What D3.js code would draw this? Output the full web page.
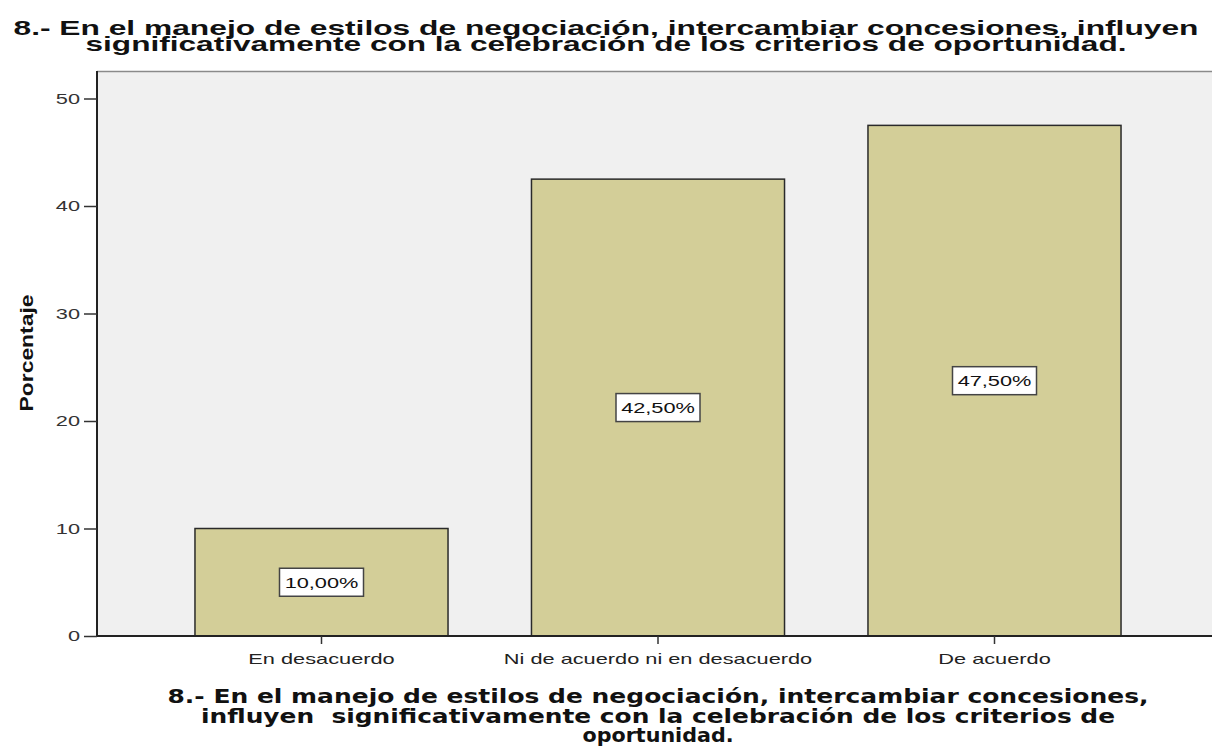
<!DOCTYPE html>
<html>
<head>
<meta charset="utf-8">
<script src="https://cdn.jsdelivr.net/npm/d3@7"></script>
<style>
  body { margin: 0; background: #fff; }
  svg { display: block; }
</style>
</head>
<body>
<div id="chart"></div>
<script>
// data
const categories = ["En desacuerdo", "Ni de acuerdo ni en desacuerdo", "De acuerdo"];
const percents = [10, 42.5, 47.5];
const yTicks = [0, 10, 20, 30, 40, 50];
const titleLines = [
  "8.- En el manejo de estilos de negociación, intercambiar concesiones, influyen",
  "significativamente con la celebración de los criterios de oportunidad."
];
const xTitleLines = [
  "8.- En el manejo de estilos de negociación, intercambiar concesiones,",
  "influyen  significativamente con la celebración de los criterios de",
  "oportunidad."
];

// size
const w = 1212;
const h = 754;
// the source image is stretched sideways, so text is widened too
const stretch = 1.45;

const svg = d3.select("#chart")
              .append("svg")
              .attr("width", w)
              .attr("height", h);

// plot box
const plot = { left: 97, top: 71, right: 1212, bottom: 636 };

const xScale = d3.scaleBand()
                 .domain(categories)
                 .range([153.25, 1162.75])
                 .paddingInner(0.248)
                 .paddingOuter(0.124);

const yScale = d3.scaleLinear()
                 .domain([0, 50])
                 .range([636, 98.5]);

// widen a text selection by a factor, keeping its anchor
const widen = sel => sel.each(function () {
    const len = this.getComputedTextLength();
    d3.select(this)
      .attr("textLength", len * stretch)
      .attr("lengthAdjust", "spacingAndGlyphs");
});

// background
svg.append("rect")
   .attr("x", plot.left)
   .attr("y", plot.top)
   .attr("width", plot.right - plot.left)
   .attr("height", plot.bottom - plot.top)
   .attr("fill", "#f0f0f0");

svg.append("line")
   .attr("x1", plot.left).attr("x2", plot.right)
   .attr("y1", plot.top + 0.5).attr("y2", plot.top + 0.5)
   .attr("stroke", "#8a8a8a")
   .attr("stroke-width", 1.5);

// bars
svg.selectAll("rect.bar")
   .data(percents)
   .enter()
   .append("rect")
   .attr("class", "bar")
   .attr("x", (d, i) => xScale(categories[i]))
   .attr("y", d => yScale(d))
   .attr("width", xScale.bandwidth())
   .attr("height", d => yScale(0) - yScale(d))
   .attr("fill", "#d3ce98")
   .attr("stroke", "#2a2a2a")
   .attr("stroke-width", 1.5);

// value labels in boxes
const fmt = d => d.toFixed(2).replace(".", ",") + "%";
const labels = svg.selectAll("g.vlabel")
   .data(percents)
   .enter()
   .append("g")
   .attr("class", "vlabel")
   .attr("transform", (d, i) => `translate(${xScale(categories[i]) + xScale.bandwidth() / 2},${yScale(d / 2)})`);

labels.append("rect")
   .attr("x", -42)
   .attr("y", -14)
   .attr("width", 84)
   .attr("height", 28)
   .attr("fill", "#fff")
   .attr("stroke", "#444")
   .attr("stroke-width", 1.5);

labels.append("text")
   .attr("text-anchor", "middle")
   .attr("dy", "0.36em")
   .attr("font-family", "Liberation Sans, Arial, sans-serif")
   .attr("font-size", 15)
   .attr("fill", "#111")
   .text(fmt)
   .call(widen);

// y axis
const yAxis = d3.axisLeft(yScale)
                .tickValues(yTicks)
                .tickSize(13)
                .tickPadding(4)
                .tickSizeOuter(0);

const gy = svg.append("g")
   .attr("transform", `translate(${plot.left},0)`)
   .call(yAxis);
gy.select(".domain").attr("d", `M0,${plot.top}V${plot.bottom}`).attr("stroke", "#222").attr("stroke-width", 2);
gy.selectAll(".tick line").attr("stroke", "#333").attr("stroke-width", 1.5);
gy.selectAll(".tick text")
  .attr("font-family", "Liberation Sans, Arial, sans-serif")
  .attr("font-size", 15)
  .attr("fill", "#333")
  .call(widen);

// x axis
const xAxis = d3.axisBottom(xScale)
                .tickSize(8)
                .tickPadding(9)
                .tickSizeOuter(0);

const gx = svg.append("g")
   .attr("transform", `translate(0,${plot.bottom})`)
   .call(xAxis);
gx.select(".domain").attr("d", `M${plot.left},0H${plot.right}`).attr("stroke", "#222").attr("stroke-width", 2);
gx.selectAll(".tick line").attr("stroke", "#333").attr("stroke-width", 1.5);
gx.selectAll(".tick text")
  .attr("font-family", "Liberation Sans, Arial, sans-serif")
  .attr("font-size", 15)
  .attr("fill", "#222")
  .call(widen);

// y axis title
svg.append("text")
   .attr("transform", "translate(33,353) rotate(-90)")
   .attr("text-anchor", "middle")
   .attr("font-family", "Liberation Sans, Arial, sans-serif")
   .attr("font-weight", "bold")
   .attr("font-size", 19)
   .attr("fill", "#111")
   .attr("textLength", 117)
   .attr("lengthAdjust", "spacingAndGlyphs")
   .text("Porcentaje");

// chart title
const titleWidths = [1185, 1041];
svg.append("g")
   .selectAll("text")
   .data(titleLines)
   .enter()
   .append("text")
   .attr("text-anchor", "middle")
   .attr("font-family", "Liberation Sans, Arial, sans-serif")
   .attr("font-weight", "bold")
   .attr("font-size", 21)
   .attr("fill", "#111")
   .attr("x", 606)
   .attr("y", (d, i) => 34.5 + i * 16.5)
   .attr("textLength", (d, i) => titleWidths[i])
   .attr("lengthAdjust", "spacingAndGlyphs")
   .text(d => d);

// x axis title
const xTitleWidths = [981, 914, 151];
svg.append("g")
   .selectAll("text")
   .data(xTitleLines)
   .enter()
   .append("text")
   .attr("text-anchor", "middle")
   .attr("font-family", "DejaVu Sans, Verdana, sans-serif")
   .attr("font-weight", "bold")
   .attr("font-size", 19)
   .attr("fill", "#111")
   .attr("x", 658)
   .attr("y", (d, i) => 703 + i * 19.5)
   .attr("textLength", (d, i) => xTitleWidths[i])
   .attr("lengthAdjust", "spacingAndGlyphs")
   .style("white-space", "pre")
   .text(d => d);
</script>
</body>
</html>
